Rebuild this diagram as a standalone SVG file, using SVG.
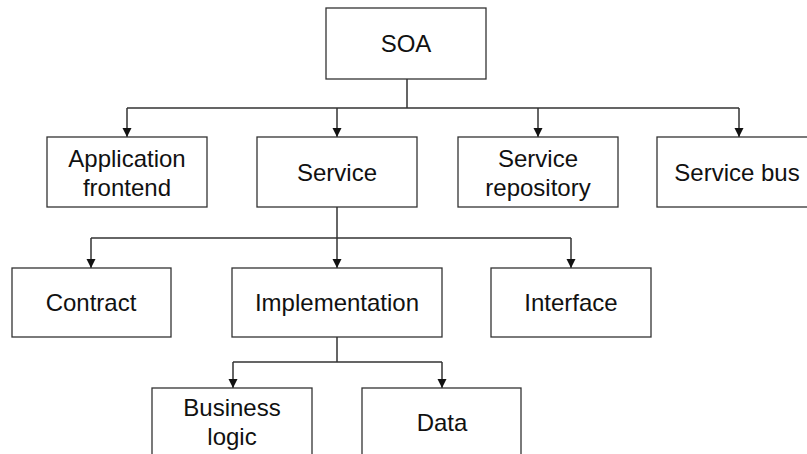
<svg xmlns="http://www.w3.org/2000/svg" width="807" height="454" viewBox="0 0 807 454">
<defs>
<marker id="arr" markerUnits="userSpaceOnUse" markerWidth="10" markerHeight="11" refX="9" refY="4.5" orient="auto">
<path d="M0,0 L9,4.5 L0,9 Z" fill="#111"/>
</marker>
<style>
rect{fill:#fff;stroke:#333;stroke-width:1.3}
text{font-family:"Liberation Sans",Arial,sans-serif;font-size:24px;fill:#111;text-anchor:middle}
.c{fill:none;stroke:#333;stroke-width:1.5}
</style>
</defs>
<rect x="0" y="0" width="807" height="454" style="stroke:none"/>
<g id="connectors">
<path class="c" d="M407,79 V108 M127,108 H739"/>
<path class="c" d="M127,108 V137" marker-end="url(#arr)"/>
<path class="c" d="M337,108 V137" marker-end="url(#arr)"/>
<path class="c" d="M538,108 V137" marker-end="url(#arr)"/>
<path class="c" d="M739,108 V137" marker-end="url(#arr)"/>
<path class="c" d="M91,238 H571"/>
<path class="c" d="M337,207 V268" marker-end="url(#arr)"/>
<path class="c" d="M91,238 V268" marker-end="url(#arr)"/>
<path class="c" d="M571,238 V268" marker-end="url(#arr)"/>
<path class="c" d="M337,337 V362 M233,362 H442"/>
<path class="c" d="M233,362 V388" marker-end="url(#arr)"/>
<path class="c" d="M442,362 V388" marker-end="url(#arr)"/>
</g>
<g id="soa"><rect x="326" y="8" width="160" height="71"/><text x="406" y="52">SOA</text></g>
<g id="app-frontend"><rect x="47" y="137" width="160" height="70"/><text x="127" y="167">Application</text><text x="127" y="196">frontend</text></g>
<g id="service"><rect x="257" y="137" width="160" height="70"/><text x="337" y="181">Service</text></g>
<g id="service-repository"><rect x="458" y="137" width="160" height="70"/><text x="538" y="167">Service</text><text x="538" y="196">repository</text></g>
<g id="service-bus"><rect x="657" y="137" width="160" height="70"/><text x="737" y="181">Service bus</text></g>
<g id="contract"><rect x="12" y="268" width="159" height="69"/><text x="91" y="311">Contract</text></g>
<g id="implementation"><rect x="232" y="268" width="210" height="69"/><text x="337" y="311">Implementation</text></g>
<g id="interface"><rect x="491" y="268" width="160" height="69"/><text x="571" y="311">Interface</text></g>
<g id="business-logic"><rect x="152" y="388" width="160" height="80"/><text x="232" y="416">Business</text><text x="232" y="445">logic</text></g>
<g id="data"><rect x="362" y="388" width="159" height="80"/><text x="442" y="431">Data</text></g>
</svg>
